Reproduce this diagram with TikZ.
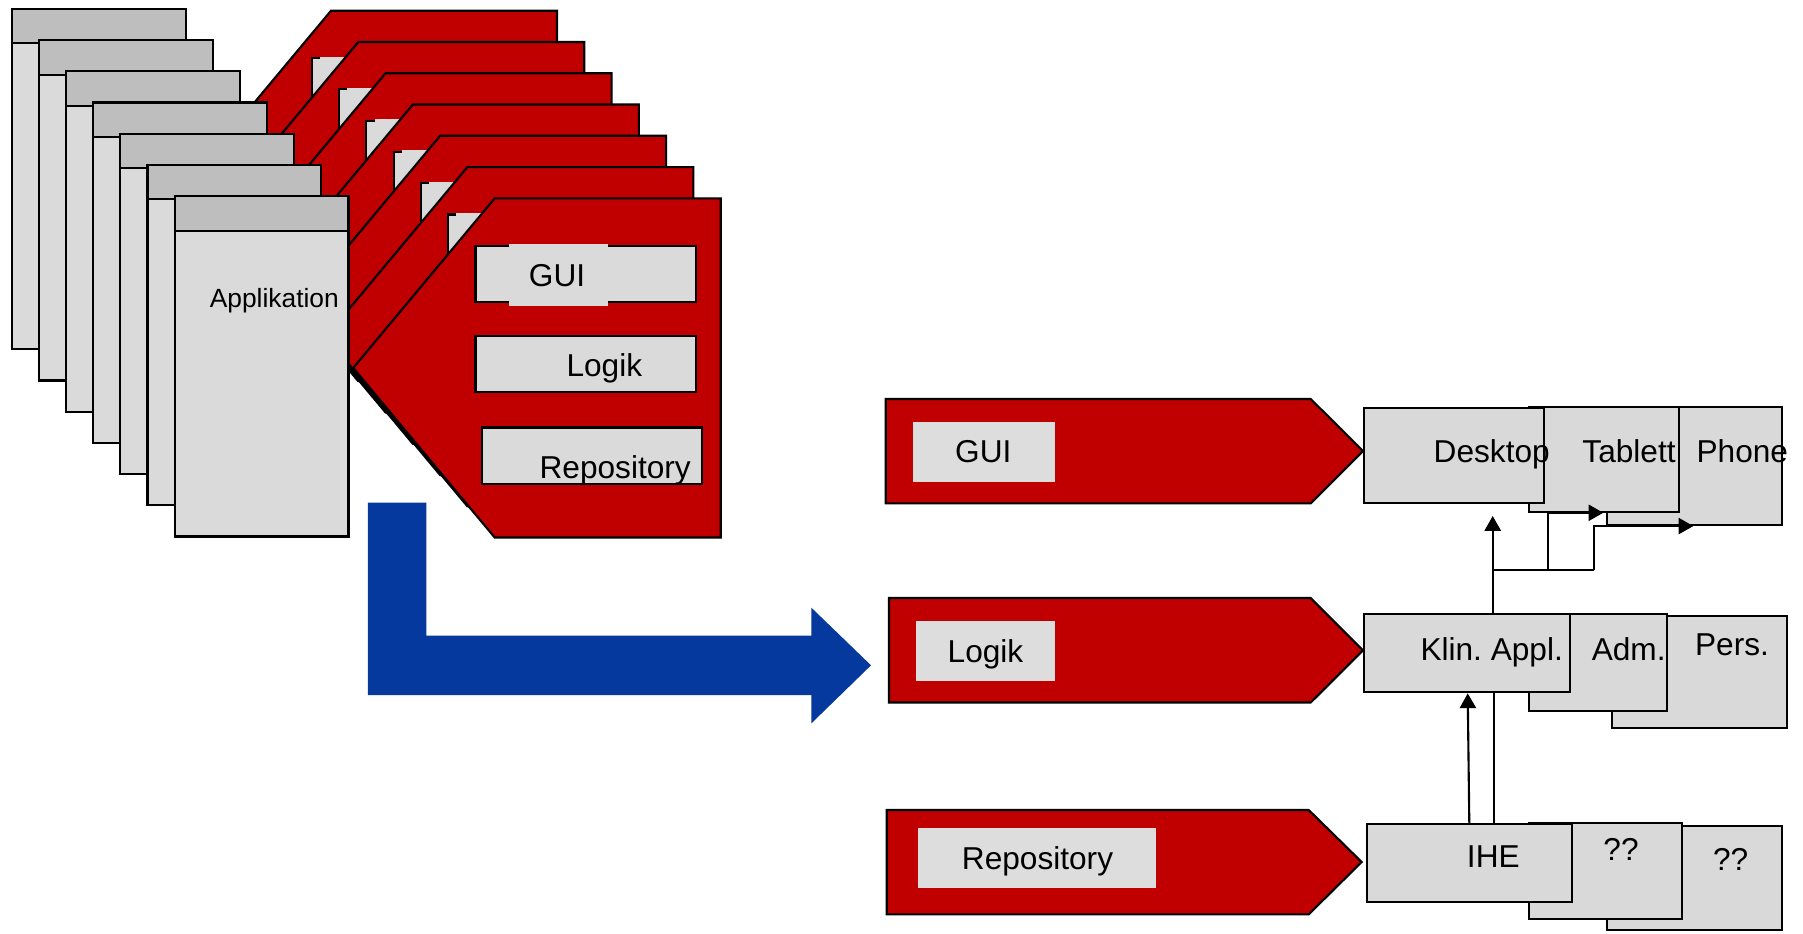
\documentclass[tikz,border=0pt]{standalone}
\usepackage{fontspec}
\setmainfont{Liberation Sans}
\usetikzlibrary{arrows.meta,fit,calc}
\definecolor{rd}{RGB}{192,0,0}
\definecolor{bl}{RGB}{5,57,158}
\definecolor{hdr}{RGB}{190,190,190}
\definecolor{bdy}{RGB}{218,218,218}
\definecolor{lbl}{RGB}{221,221,221}
\definecolor{bx}{RGB}{217,217,217}
\frenchspacing
\begin{document}
\begin{tikzpicture}[x=0.1mm,y=-0.1mm,
  redshape/.style={fill=rd,draw=black,line width=0.6pt,line join=miter},
  pagebody/.style={fill=bdy,draw=black,line width=0.6pt},
  pagehead/.style={fill=hdr,draw=black,line width=0.6pt},
  ibox/.style={fill=bdy,draw=black,line width=0.6pt,inner sep=0pt},
  lab/.style={fill=lbl,draw=none,inner sep=0pt},
  rbox/.style={fill=bx,draw=black,line width=0.6pt,inner sep=0pt},
  txt/.style={font=\fontsize{9}{10}\selectfont,anchor=base,inner sep=0pt},
  conn/.style={draw=black,line width=0.6pt},
  arr/.style={conn,-{Triangle[length=4.2pt,width=4.6pt]}},
]
\useasboundingbox (0,0) rectangle (1803,933);

% stacked red application shapes
\foreach \k in {0,...,5}{
  \pgfmathsetmacro\ox{331+27.28*\k}
  \pgfmathsetmacro\oy{10.7+31.27*\k}
  \begin{scope}[shift={(\ox,\oy)}]
    \draw[redshape] (0,0) -- (226,0) -- (226,339.2) -- (0,339.2) -- (-141.5,169.6) -- cycle;
    \draw[fill=bdy,draw=black,line width=0.6pt] (-19.2,47.4) rectangle (201.7,104);
    \fill[bdy] (-11,45.8) rectangle (112.8,60);
  \end{scope}
}
% front red shape
\draw[redshape] (494.7,198.3) -- (720.7,198.3) -- (720.7,537.5) -- (494.7,537.5) -- (353.2,367.9) -- cycle;
\node[ibox, fit={(475.5,245.7) (696.4,302.3)}] (fgui) {};
\fill[bdy] (509,244.3) rectangle (607.5,306);
\node[ibox, fit={(475.5,335.7) (696.4,391.8)}] (flog) {};
\node[ibox, fit={(481.6,427.5) (702,484)}] (frep) {};
\node[txt] at (557,286.7) {GUI};
\node[txt] at (604.3,376.8) {Logik};
\node[txt] at (615.2,478.6) {Repository};

% stacked pages
\foreach \k in {0,...,6}{
  \pgfmathsetmacro\ox{11.8+27.15*\k}
  \pgfmathsetmacro\oy{8.9+31.2*\k}
  \draw[pagebody] (\ox,\oy) rectangle ++(173.8,340.4);
  \draw[pagehead] (\ox,\oy) rectangle ++(173.8,34.5);
}
\node[txt,font=\fontsize{7.5}{9}\selectfont] (appl) at (274.3,307) {Applikation};

% blue arrow
\fill[bl] (367.9,502.7) -- (426.4,502.7) -- (426.4,635.7) -- (811.4,635.7) -- (811.4,607.7)
  -- (871,665.3) -- (811.4,723.3) -- (811.4,695) -- (367.9,695) -- cycle;

% layer bands
\draw[redshape] (885.7,399) -- (1310.7,399) -- (1363,451) -- (1310.7,503.3) -- (885.7,503.3) -- cycle;
\draw[redshape] (889,598) -- (1310.7,598) -- (1363,650.3) -- (1310.7,702.5) -- (889,702.5) -- cycle;
\draw[redshape] (886.7,810) -- (1308.7,810) -- (1361.7,862) -- (1308.7,914.3) -- (886.7,914.3) -- cycle;
\node[lab, fit={(913,422.3) (1055,481.7)}] (lgui) {};
\node[lab, fit={(916,621) (1055,680.5)}] (llog) {};
\node[lab, fit={(918,828.3) (1156,887.7)}] (lrep) {};
\node[txt] at (983.3,462) {GUI};
\node[txt] at (985.5,662.2) {Logik};
\node[txt] at (1037.5,869.3) {Repository};

% right boxes
\node[rbox, fit={(1607.3,406.7) (1782.3,525)}] (phone) {};
\node[rbox, fit={(1528.7,406.7) (1679.3,511.7)}] (tab) {};
\node[rbox, fit={(1364.3,407.7) (1543.7,503.3)}] (desk) {};
\node[rbox, fit={(1612.3,616) (1786.7,728.3)}] (pers) {};
\node[rbox, fit={(1529,614.3) (1666.7,710.7)}] (adm) {};
\node[rbox, fit={(1364.3,614.3) (1570,692.3)}] (klin) {};
\node[rbox, fit={(1607.3,825.7) (1782,930)}] (qb) {};
\node[rbox, fit={(1529,823.3) (1681.7,919)}] (qa) {};
\node[rbox, fit={(1366.7,824.3) (1572,902.3)}] (ihe) {};

% connectors
\draw[arr] (1469.3,0 |- ihe.north) -- (1467.7,0 |- klin.south);
\draw[conn] (1493.7,0 |- ihe.north) -- (1493.7,0 |- klin.south);
\coordinate (dtip) at (1492.7,516);
\draw[arr] (1492.7,0 |- klin.north) -- (dtip);
\coordinate (j1) at (1492.7,570);
\coordinate (j2) at (1548.3,570);
\coordinate (j3) at (1594,570);
\draw[conn] (j1) -- (j3);
\draw[arr] (j3) |- (1693.3,0 |- phone.south);
\draw[arr] (j2) |- (1603.3,0 |- tab.south);

% texts
\node[txt] at (1491.7,462.7) {Desktop};
\node[txt] at (1629,462.7) {Tablett};
\node[txt] at (1742.3,462.7) {Phone};
\node[txt] at (1491.7,660) {Klin. Appl.};
\node[txt] at (1628.7,660) {Adm.};
\node[txt] at (1732,655) {Pers.};
\node[txt] at (1493.3,867.3) {IHE};
\node[txt] at (1621,860.7) {??};
\node[txt] at (1730.7,870) {??};
\end{tikzpicture}
\end{document}
